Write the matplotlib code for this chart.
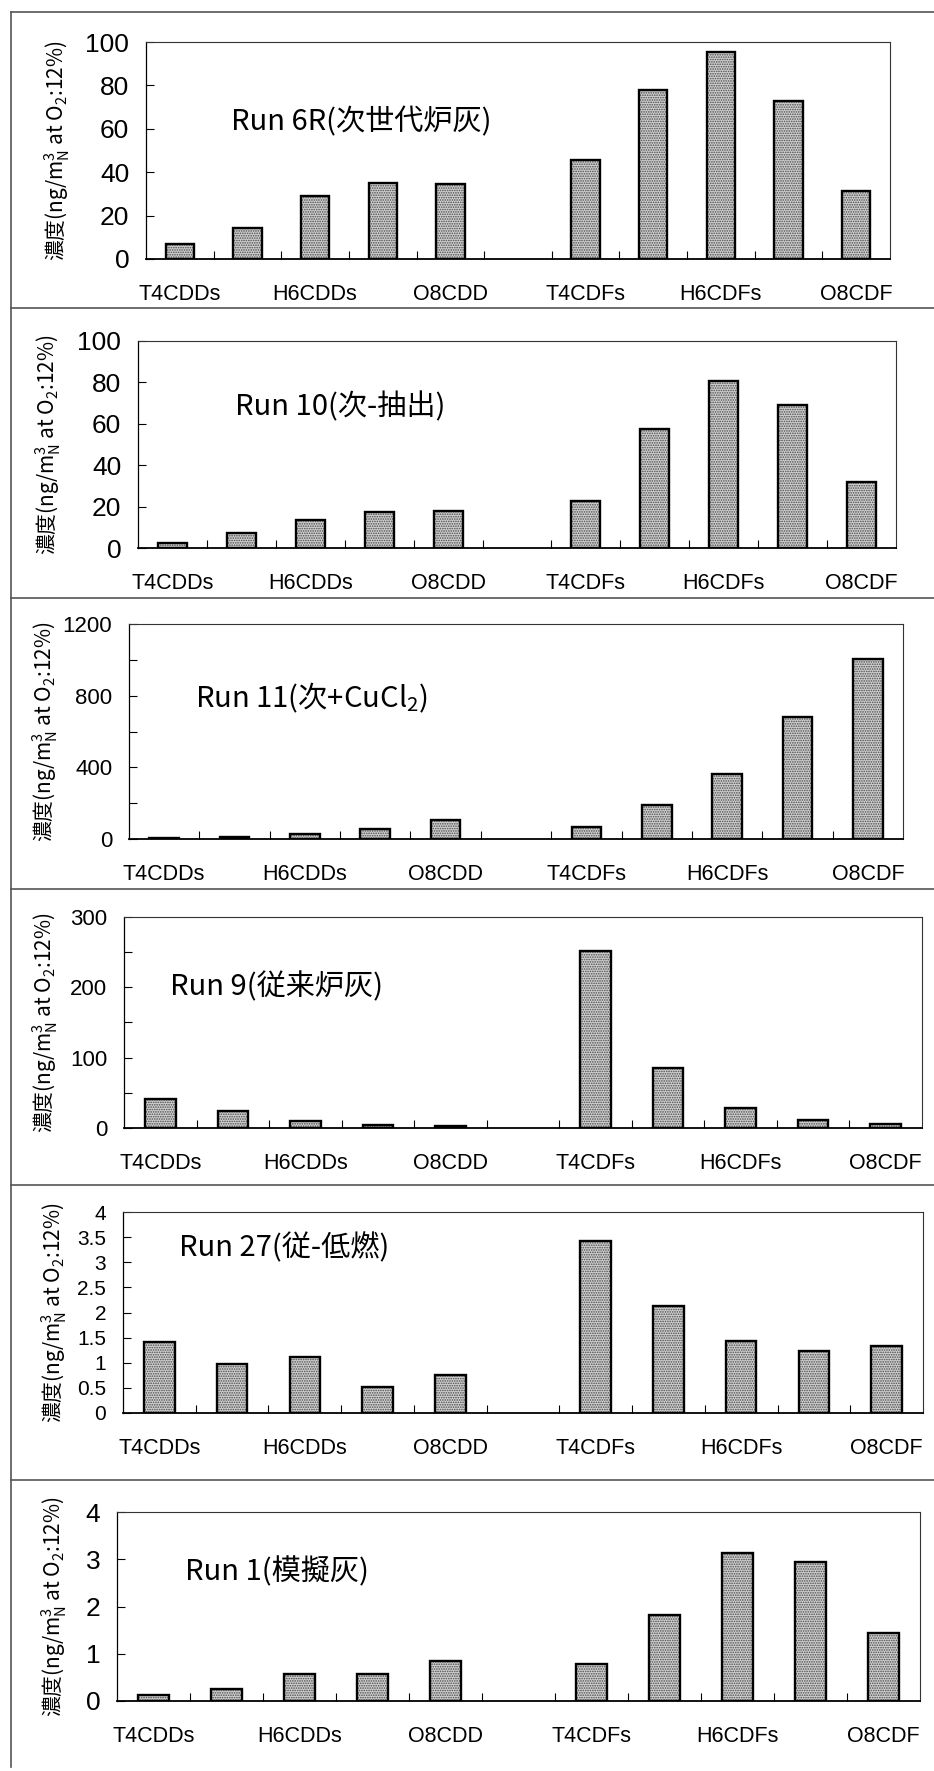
import numpy as np
import matplotlib
matplotlib.use("Agg")
import matplotlib.pyplot as plt

plt.rcParams['mathtext.fontset'] = 'custom'
plt.rcParams['mathtext.rm'] = 'Noto Sans CJK JP'
plt.rcParams['mathtext.it'] = 'Noto Sans CJK JP'
plt.rcParams['hatch.linewidth'] = 0.8

# congeners (slot 5 is the empty gap between CDDs and CDFs)
congeners = ['T4CDDs', 'P5CDDs', 'H6CDDs', 'H7CDDs', 'O8CDD',
             'T4CDFs', 'P5CDFs', 'H6CDFs', 'H7CDFs', 'O8CDF']
shown_labels = ['T4CDDs', 'H6CDDs', 'O8CDD', 'T4CDFs', 'H6CDFs', 'O8CDF']

run6r = [6.8, 14.2, 29.2, 35.2, 34.5, 45.5, 77.7, 95.4, 72.6, 31.5]
run10 = [2.6, 7.2, 13.5, 17.5, 17.7, 22.6, 57.6, 80.7, 68.9, 31.9]
run11 = [4, 11, 30, 56, 104, 65, 192, 365, 682, 1002]
run9 = [41, 24, 10, 4.3, 3.3, 252, 86, 28, 11.4, 5.7]
run27 = [1.41, 0.98, 1.12, 0.52, 0.75, 3.42, 2.13, 1.43, 1.24, 1.34]
run1 = [0.13, 0.25, 0.57, 0.58, 0.84, 0.79, 1.83, 3.14, 2.95, 1.43]

titles = ['Run 6R(次世代炉灰)', 'Run 10(次-抽出)', 'Run 11(次+CuCl$_2$)',
          'Run 9(従来炉灰)', 'Run 27(従-低燃)', 'Run 1(模擬灰)']
ylims = [100, 100, 1200, 300, 4, 4]
major_steps = [20, 20, 400, 100, 0.5, 1]
minor_steps = [20, 20, 200, 50, 0.5, 1]
tick_fs = [19, 19, 16, 16, 15, 19]

W, H = 934, 1771
fig = plt.figure(figsize=(W / 100, H / 100), dpi=100)

# panel layout in pixels: left, right, top, bottom of axes; title pos; ylabel x
axes_px = [(146, 890, 42, 259), (138, 896, 341, 548), (129, 903, 624, 839),
           (124, 922, 917, 1128), (123, 923, 1212, 1413), (117, 920, 1512, 1701)]
title_px = [(231, 122), (235, 407), (195, 698), (170, 987), (179, 1248), (185, 1572)]
ylabel_x = [57, 48, 45, 45, 54, 54]
borders = [12, 308, 598, 889, 1185, 1480]

ylabel = '濃度(ng/m$^3_\\mathrm{N}$ at O$_2$:12%)'
narrow = ['Liberation Sans', 'DejaVu Sans']
cjk = ['Noto Sans CJK JP', 'DejaVu Sans']

xpos = np.r_[0:5, 6:11]

data = [run6r, run10, run11, run9, run27, run1]
for i, vals in enumerate(data):
    l, r, t, b = axes_px[i]
    ax = fig.add_axes([l / W, 1 - b / H, (r - l) / W, (b - t) / H])
    ax.bar(xpos, vals, width=0.42, color='#d0d0d0', edgecolor='#4a4a4a',
           hatch='.......', linewidth=0)
    ax.bar(xpos, vals, width=0.42, fill=False, edgecolor='black', linewidth=1.7)
    ax.set_xlim(-0.5, 10.5)
    ax.set_ylim(0, ylims[i])
    ax.set_xticks(np.arange(0, 11, 2))
    ax.set_xticklabels(shown_labels, fontsize=15.5, family=narrow)
    ax.set_xticks(np.arange(0.5, 10.5, 1), minor=True)
    ax.tick_params(axis='x', which='major', length=0, pad=18)
    ax.tick_params(axis='x', which='minor', direction='in', length=6, width=0.8)
    yt = np.arange(0, ylims[i] + 1e-9, major_steps[i])
    ax.set_yticks(yt)
    ax.set_yticks(np.arange(0, ylims[i] + 1e-9, minor_steps[i]), minor=True)
    ylabs = ['%g' % v for v in yt]
    ax.set_yticklabels(ylabs, fontsize=tick_fs[i], family=narrow)
    ax.tick_params(axis='y', which='both', direction='in', length=6, width=0.8, pad=12)
    for s in ['top', 'right']:
        ax.spines[s].set_linewidth(0.8)
        ax.spines[s].set_color('#333333')
    ax.spines['left'].set_linewidth(0.9)
    ax.spines['bottom'].set_linewidth(1.3)

    tx, ty = title_px[i]
    fig.text(tx / W, 1 - ty / H, titles[i], fontsize=21, family=cjk,
             ha='left', va='center')
    fig.text(ylabel_x[i] / W, 1 - (t + b) / 2 / H, ylabel, fontsize=15,
             family=cjk, rotation=90, ha='center', va='center')

# panel frame lines
for yb in borders:
    fig.add_artist(plt.Line2D([11 / W, 1], [1 - yb / H, 1 - yb / H],
                              color='#555555', lw=1.2))
fig.add_artist(plt.Line2D([11 / W, 11 / W], [1 - 12 / H, 0.002],
                          color='#555555', lw=1.2))

fig.savefig('out.png', dpi=100)
